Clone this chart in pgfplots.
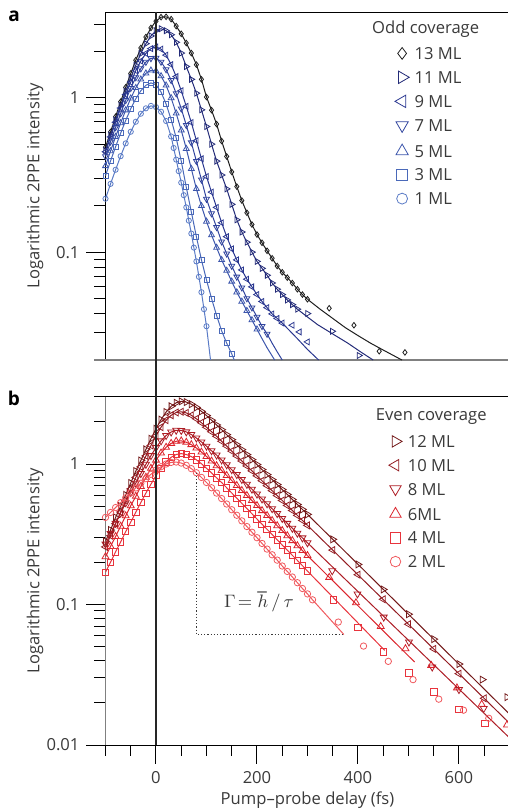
\documentclass[border=0pt]{standalone}
\usepackage{fontspec}
\setmainfont{Open Sans}
\usepackage{pgfplots}
\pgfplotsset{compat=1.18}
\newcommand{\fs}{\fontsize{8.3}{10}\selectfont}
\definecolor{c13}{HTML}{1E1E1E}
\definecolor{c11}{HTML}{232B78}
\definecolor{c9}{HTML}{2A3790}
\definecolor{c7}{HTML}{31449E}
\definecolor{c5}{HTML}{3C56AC}
\definecolor{c3}{HTML}{4A69B9}
\definecolor{c1}{HTML}{5A7BC6}
\definecolor{c12}{HTML}{731818}
\definecolor{c10}{HTML}{931C22}
\definecolor{c8}{HTML}{AD1D25}
\definecolor{c6}{HTML}{DB242C}
\definecolor{c4}{HTML}{E8343D}
\definecolor{c2}{HTML}{F0595E}
\definecolor{txt}{HTML}{3A3A3A}
\pgfplotsset{
 every axis/.append style={
   width=202pt, height=174pt, scale only axis,
   xmin=-100, xmax=700,
   clip mode=individual,
   axis line style={draw=none},
   tick align=outside, tick pos=left,
   major tick length=9.5pt, minor tick length=5.5pt,
   tick style={black, line width=0.5pt},
   tick label style={font=\fs, text=txt},
   legend cell align=left,
 },
}
\begin{document}
\begin{tikzpicture}
%================ TOP PANEL =================
\begin{axis}[ymode=log, at={(0pt,192.5pt)}, anchor=south west,
  ymin=0.02, ymax=3.6, xtick=\empty,
  ytick={0.1,1}, yticklabels={0.1,1},
  minor ytick={0.02,0.03,0.04,0.05,0.06,0.07,0.08,0.09,0.2,0.3,0.4,0.5,0.6,0.7,0.8,0.9,2,3},
  legend style={at={(rel axis cs:0.7156,0.8994)}, anchor=north west, draw=none, fill=none,
    inner sep=0pt, row sep=5.85pt, column sep=2.7pt, font=\fs, text=txt,
    nodes={inner sep=0pt, text height=6pt, text depth=0pt, anchor=west}},
  legend image code/.code={\draw[#1, every mark/.append style={scale=2.1}] plot coordinates {(0pt,0pt)};},
]
\draw[black, line width=0.5pt] (rel axis cs:0,0) -- (rel axis cs:0,1) -- (rel axis cs:1,1);
\draw[gray, line width=1pt] ([xshift=-5.5pt]rel axis cs:0,0) -- (rel axis cs:1,0);
\coordinate (ztop) at (axis cs:0,3.6);
% 13 ML
\addplot[c13, line width=0.5pt, mark=diamond, mark size=1.4pt, mark options={line width=0.4pt, solid}] coordinates {(-100,0.479) (-90,0.601) (-80,0.755) (-70,0.944) (-60,1.170) (-50,1.439) (-40,1.754) (-30,2.104) (-20,2.477) (-10,2.838) (0,3.141) (10,3.334) (20,3.350) (30,3.236) (40,2.917) (50,2.600) (60,2.265) (70,1.950) (80,1.641) (90,1.318) (100,1.012) (110,0.832) (120,0.676) (130,0.525) (140,0.417) (150,0.331) (160,0.266) (170,0.216) (180,0.180) (190,0.151) (200,0.130) (210,0.115) (220,0.102) (230,0.0912) (240,0.0813) (250,0.0741) (260,0.0684) (270,0.0631) (280,0.0575) (290,0.0531) (300,0.0495)};
\addlegendentry{13 ML}
% 11 ML
\addplot[c11, line width=0.5pt, mark=triangle, mark size=1.7pt, mark options={rotate=-90, line width=0.4pt, solid}] coordinates {(-100,0.456) (-90,0.573) (-80,0.718) (-70,0.893) (-60,1.104) (-50,1.349) (-40,1.629) (-30,1.936) (-20,2.244) (-10,2.518) (0,2.723) (10,2.805) (20,2.723) (30,2.564) (40,2.291) (50,1.950) (60,1.596) (70,1.318) (80,1.072) (90,0.836) (100,0.652) (110,0.501) (120,0.389) (130,0.316) (140,0.257) (150,0.204) (160,0.162) (170,0.135) (180,0.116) (190,0.100) (200,0.0871) (210,0.0785) (220,0.0708) (230,0.0631) (240,0.0575) (250,0.0531) (260,0.0490) (270,0.0457) (280,0.0427)};
\addlegendentry{11 ML}
% 9 ML
\addplot[c9, line width=0.5pt, mark=triangle, mark size=1.7pt, mark options={rotate=90, line width=0.4pt, solid}] coordinates {(-100,0.447) (-90,0.558) (-80,0.695) (-70,0.859) (-60,1.050) (-50,1.265) (-40,1.500) (-30,1.734) (-20,1.941) (-10,2.084) (0,2.138) (10,2.070) (20,1.892) (30,1.644) (40,1.374) (50,1.112) (60,0.881) (70,0.692) (80,0.528) (90,0.403) (100,0.309) (110,0.245) (120,0.195) (130,0.155) (140,0.126) (150,0.105) (160,0.0891) (170,0.0767) (180,0.0668) (190,0.0596) (200,0.0531) (210,0.0479) (220,0.0437) (230,0.0398) (240,0.0372) (250,0.0347)};
\addlegendentry{9 ML}
% 7 ML
\addplot[c7, line width=0.5pt, mark=triangle, mark size=1.7pt, mark options={rotate=180, line width=0.4pt, solid}] coordinates {(-100,0.417) (-90,0.520) (-80,0.644) (-70,0.792) (-60,0.964) (-50,1.156) (-40,1.355) (-30,1.549) (-20,1.706) (-10,1.803) (0,1.811) (10,1.710) (20,1.528) (30,1.300) (40,1.067) (50,0.851) (60,0.665) (70,0.513) (80,0.389) (90,0.295) (100,0.221) (110,0.178) (120,0.145) (130,0.117) (140,0.0977) (150,0.0813) (160,0.0692) (170,0.0589) (180,0.0501) (190,0.0437) (200,0.0380) (210,0.0331) (220,0.0295)};
\addlegendentry{7 ML}
% 5 ML
\addplot[c5, line width=0.5pt, mark=triangle, mark size=1.7pt, mark options={line width=0.4pt, solid}] coordinates {(-100,0.362) (-90,0.452) (-80,0.560) (-70,0.687) (-60,0.832) (-50,0.993) (-40,1.161) (-30,1.318) (-20,1.442) (-10,1.507) (0,1.493) (10,1.384) (20,1.205) (30,0.998) (40,0.794) (50,0.617) (60,0.468) (70,0.347) (80,0.257) (90,0.1995) (100,0.158) (110,0.129) (120,0.107) (130,0.0891) (140,0.0759) (150,0.0646) (160,0.0550) (170,0.0479) (180,0.0417) (190,0.0363) (200,0.0316)};
\addlegendentry{5 ML}
% 3 ML
\addplot[c3, line width=0.5pt, mark=square, mark size=1.25pt, mark options={line width=0.4pt, solid}] coordinates {(-100,0.313) (-90,0.390) (-80,0.482) (-70,0.590) (-60,0.714) (-50,0.849) (-40,0.986) (-30,1.112) (-20,1.205) (-10,1.250) (0,1.216) (10,1.091) (20,0.912) (30,0.724) (40,0.550) (50,0.389) (60,0.263) (70,0.182) (80,0.126) (90,0.0891) (100,0.0661) (110,0.0501) (120,0.0389) (130,0.0309) (140,0.0257) (150,0.0219)};
\addlegendentry{3 ML}
% 1 ML
\addplot[c1, line width=0.5pt, mark=o, mark size=1.3pt, mark options={line width=0.4pt, solid}] coordinates {(-100,0.222) (-90,0.277) (-80,0.342) (-70,0.419) (-60,0.507) (-50,0.603) (-40,0.700) (-30,0.789) (-20,0.855) (-10,0.887) (0,0.871) (10,0.813) (20,0.708) (30,0.562) (35,0.473) (40,0.398) (45,0.335) (50,0.282) (55,0.234) (60,0.195) (65,0.160) (70,0.132) (75,0.107) (80,0.0871) (85,0.0692) (90,0.0550) (95,0.0427) (100,0.0331)};
\addlegendentry{1 ML}
% extensions and late points
\addplot[c13, line width=0.5pt, mark=none, forget plot] coordinates {(300,0.0495) (325,0.0427) (350,0.0372) (375,0.0324) (400,0.0288) (425,0.0257) (450,0.0232) (487,0.0200)};
\addplot[c13, only marks, mark=diamond, mark size=1.4pt, mark options={line width=0.4pt}, forget plot] coordinates {(343,0.0433) (392,0.0336) (442,0.0228) (493,0.0224)};
\addplot[c11, line width=0.5pt, mark=none, forget plot] coordinates {(280,0.0427) (300,0.0380) (320,0.0339) (350,0.0295) (380,0.0257) (405,0.0226) (430,0.0200)};
\addplot[c11, only marks, mark=triangle, mark size=1.7pt, mark options={rotate=-90, line width=0.4pt}, forget plot] coordinates {(300,0.0400) (349,0.0307) (402,0.0214)};
\addplot[c9, line width=0.5pt, mark=none, forget plot] coordinates {(250,0.0347) (265,0.0309) (280,0.0275) (300,0.0234) (322,0.0200)};
\addplot[c9, only marks, mark=triangle, mark size=1.7pt, mark options={rotate=90, line width=0.4pt}, forget plot] coordinates {(270,0.0336) (284,0.0304) (300,0.0262)};
\addplot[c7, line width=0.5pt, mark=none, forget plot] coordinates {(220,0.0295) (230,0.0257) (240,0.0226) (250,0.0200)};
\addplot[c5, line width=0.5pt, mark=none, forget plot] coordinates {(200,0.0316) (210,0.0275) (220,0.0240) (235,0.0200)};
\addplot[c3, line width=0.5pt, mark=none, forget plot] coordinates {(150,0.0219) (155,0.0200)};
\addplot[c1, line width=0.5pt, mark=none, forget plot] coordinates {(100,0.0331) (108,0.0200)};
\node[font=\fs, text=txt, anchor=base] at (rel axis cs:0.7926,0.9388) {Odd coverage};
\node[font=\fs, text=txt, rotate=90] at ([xshift=-35.25pt]rel axis cs:0,0.5) {Logarithmic 2PPE intensity};
\end{axis}
%================ BOTTOM PANEL =================
\begin{axis}[ymode=log, at={(0pt,0pt)}, anchor=south west,
  ymin=0.01, ymax=3,
  xtick={0,200,400,600}, xticklabels={0,200,400,600},
  minor xtick={-100,-50,50,100,150,250,300,350,450,500,550,650,700},
  ytick={0.01,0.1,1}, yticklabels={0.01,0.1,1},
  minor ytick={0.02,0.03,0.04,0.05,0.06,0.07,0.08,0.09,0.2,0.3,0.4,0.5,0.6,0.7,0.8,0.9,2,3},
  legend style={at={(rel axis cs:0.7005,0.8908)}, anchor=north west, draw=none, fill=none,
    inner sep=0pt, row sep=5.9pt, column sep=2.9pt, font=\fs, text=txt,
    nodes={inner sep=0pt, text height=6pt, text depth=0pt, anchor=west}},
  legend image code/.code={\draw[#1, every mark/.append style={scale=1.65}] plot coordinates {(0pt,0pt)};},
]
\draw[gray, line width=0.5pt] (rel axis cs:0,0) -- (rel axis cs:0,1);
\draw[black, line width=0.5pt] (rel axis cs:0,1) -- (rel axis cs:1,1);
\draw[black, line width=0.5pt] (rel axis cs:0,0) -- (rel axis cs:1,0);
\coordinate (zbot) at (axis cs:0,0.01);
% 12 ML
\addplot[c12, line width=0.5pt, mark=triangle, mark size=2pt, mark options={rotate=-90, line width=0.4pt, solid}] coordinates {(-100,0.282) (-90,0.339) (-80,0.417) (-70,0.501) (-60,0.603) (-50,0.733) (-40,0.891) (-30,1.059) (-20,1.271) (-10,1.514) (0,1.782) (10,2.070) (20,2.344) (30,2.576) (40,2.729) (50,2.793) (60,2.761) (70,2.667) (80,2.529) (90,2.371) (100,2.213) (110,2.051) (120,1.897) (130,1.756) (140,1.618) (150,1.491) (160,1.374) (170,1.266) (180,1.167) (190,1.075) (200,0.991) (210,0.913) (220,0.841) (230,0.775) (240,0.714) (250,0.658) (260,0.607) (270,0.559) (280,0.515) (290,0.475) (300,0.438)};
\addlegendentry{12 ML}
% 10 ML
\addplot[c10, line width=0.5pt, mark=triangle, mark size=2pt, mark options={rotate=90, line width=0.4pt, solid}] coordinates {(-100,0.257) (-90,0.309) (-80,0.376) (-70,0.455) (-60,0.550) (-50,0.665) (-40,0.804) (-30,0.955) (-20,1.143) (-10,1.355) (0,1.589) (10,1.828) (20,2.051) (30,2.223) (40,2.328) (50,2.355) (60,2.312) (70,2.223) (80,2.099) (90,1.968) (100,1.828) (110,1.698) (120,1.576) (130,1.453) (140,1.341) (150,1.236) (160,1.140) (170,1.051) (180,0.969) (190,0.894) (200,0.824) (210,0.760) (220,0.701) (230,0.646) (240,0.596) (250,0.550) (260,0.507) (270,0.467) (280,0.431) (290,0.397) (300,0.366)};
\addlegendentry{10 ML}
% 8 ML
\addplot[c8, line width=0.5pt, mark=triangle, mark size=2pt, mark options={rotate=180, line width=0.4pt, solid}] coordinates {(-100,0.269) (-90,0.320) (-80,0.378) (-70,0.448) (-60,0.530) (-50,0.627) (-40,0.730) (-30,0.855) (-20,0.995) (-10,1.148) (0,1.309) (10,1.462) (20,1.596) (30,1.690) (40,1.738) (50,1.734) (60,1.694) (70,1.622) (80,1.531) (90,1.436) (100,1.340) (110,1.242) (120,1.158) (130,1.069) (140,0.987) (150,0.911) (160,0.841) (170,0.776) (180,0.717) (190,0.662) (200,0.611) (210,0.564) (220,0.521) (230,0.481) (240,0.444) (250,0.410) (260,0.378) (270,0.349) (280,0.322) (290,0.298) (300,0.275)};
\addlegendentry{8 ML}
% 6 ML
\addplot[c6, line width=0.5pt, mark=triangle, mark size=2pt, mark options={line width=0.4pt, solid}] coordinates {(-100,0.219) (-90,0.259) (-80,0.305) (-70,0.361) (-60,0.428) (-50,0.505) (-40,0.589) (-30,0.692) (-20,0.805) (-10,0.933) (0,1.066) (10,1.197) (20,1.315) (30,1.403) (40,1.452) (50,1.462) (60,1.429) (70,1.374) (80,1.300) (90,1.216) (100,1.132) (110,1.050) (120,0.973) (130,0.900) (140,0.829) (150,0.764) (160,0.703) (170,0.648) (180,0.597) (190,0.550) (200,0.506) (210,0.466) (220,0.430) (230,0.396) (240,0.364) (250,0.336) (260,0.309) (270,0.285) (280,0.262) (290,0.242) (300,0.223)};
\addlegendentry{6ML}
% 4 ML
\addplot[c4, line width=0.5pt, mark=square, mark size=1.6pt, mark options={line width=0.4pt, solid}] coordinates {(-100,0.170) (-90,0.200) (-80,0.237) (-70,0.279) (-60,0.330) (-50,0.386) (-40,0.454) (-30,0.532) (-20,0.621) (-10,0.719) (0,0.826) (10,0.933) (20,1.035) (30,1.117) (40,1.169) (50,1.186) (60,1.169) (70,1.130) (80,1.072) (90,1.005) (100,0.933) (110,0.865) (120,0.798) (130,0.738) (140,0.678) (150,0.622) (160,0.571) (170,0.525) (180,0.482) (190,0.443) (200,0.406) (210,0.373) (220,0.343) (230,0.315) (240,0.289) (250,0.265) (260,0.244) (270,0.224) (280,0.206) (290,0.189) (300,0.173)};
\addlegendentry{4 ML}
% 2 ML
\addplot[c2, line width=0.5pt, mark=o, mark size=1.6pt, mark options={line width=0.4pt, solid}] coordinates {(-100,0.417) (-90,0.452) (-80,0.490) (-70,0.531) (-60,0.575) (-50,0.624) (-40,0.676) (-30,0.730) (-20,0.787) (-10,0.845) (0,0.904) (10,0.957) (20,1.000) (30,1.027) (40,1.033) (50,1.016) (60,0.979) (70,0.927) (80,0.867) (90,0.803) (100,0.739) (110,0.678) (120,0.621) (130,0.568) (140,0.519) (150,0.473) (160,0.432) (170,0.394) (180,0.359) (190,0.327) (200,0.299) (210,0.272) (220,0.248) (230,0.226) (240,0.207) (250,0.188) (260,0.172) (270,0.157) (280,0.143) (290,0.130) (300,0.119) (310,0.108)};
\addlegendentry{2 ML}
% fit line extensions
\addplot[c12, line width=0.5pt, mark=none, forget plot] coordinates {(300,0.438) (700,0.0166)};
\addplot[c10, line width=0.5pt, mark=none, forget plot] coordinates {(300,0.366) (700,0.0143)};
\addplot[c8, line width=0.5pt, mark=none, forget plot] coordinates {(300,0.275) (700,0.01125)};
\addplot[c6, line width=0.5pt, mark=none, forget plot] coordinates {(300,0.223) (512,0.0390)};
\addplot[c4, line width=0.5pt, mark=none, forget plot] coordinates {(300,0.173) (453,0.0471)};
\addplot[c2, line width=0.5pt, mark=none, forget plot] coordinates {(310,0.108) (372,0.0612)};
% late points
\addplot[c12, only marks, mark=triangle, mark size=2pt, mark options={rotate=-90, line width=0.4pt}, forget plot] coordinates {(350,0.291) (400,0.193) (450,0.128) (500,0.0853) (550,0.0567) (600,0.0377) (646,0.0292) (695,0.0219)};
\addplot[c10, only marks, mark=triangle, mark size=2pt, mark options={rotate=90, line width=0.4pt}, forget plot] coordinates {(350,0.244) (400,0.163) (450,0.109) (500,0.0724) (550,0.0483) (600,0.0322) (650,0.0215)};
\addplot[c8, only marks, mark=triangle, mark size=2pt, mark options={rotate=180, line width=0.4pt}, forget plot] coordinates {(349,0.174) (399,0.119) (451,0.0813) (501,0.0541) (547,0.0359) (600,0.0248) (649,0.0182)};
\addplot[c6, only marks, mark=triangle, mark size=2pt, mark options={line width=0.4pt}, forget plot] coordinates {(343,0.156) (396,0.103) (445,0.0698) (494,0.0485) (545,0.0369) (596,0.0255) (645,0.0195) (695,0.0139)};
\addplot[c4, only marks, mark=square, mark size=1.6pt, mark options={line width=0.4pt}, forget plot] coordinates {(351,0.108) (400,0.069) (450,0.0459) (501,0.0326) (550,0.0239) (600,0.0179) (651,0.0143)};
\addplot[c2, only marks, mark=o, mark size=1.6pt, mark options={line width=0.4pt}, forget plot] coordinates {(361,0.075) (411,0.0506) (460,0.0394) (509,0.0292) (560,0.0212) (609,0.0177) (659,0.0155)};
% annotation
\draw[densely dotted, txt, line width=0.6pt] (axis cs:80,0.867) -- (axis cs:80,0.0612) -- (axis cs:372,0.0612);
\node[text=txt, font=\fontsize{9.5}{11}\selectfont] at (axis cs:204,0.1038) {$\Gamma\!=\hbar\,/\,\tau$};
\node[font=\fs, text=txt, anchor=base] at (rel axis cs:0.8064,0.9319) {Even coverage};
\node[font=\fs, text=txt, rotate=90] at ([xshift=-35.25pt]rel axis cs:0,0.5) {Logarithmic 2PPE intensity};
\node[font=\fs, text=txt] at ([yshift=-27.5pt]rel axis cs:0.5,0) {Pump–probe delay (fs)};
\end{axis}
\draw[black!85, line width=0.9pt] (ztop) -- (zbot);
\node[font=\bfseries\fontsize{9.5}{11}\selectfont, anchor=base] at (-45.75pt,361.6pt) {a};
\node[font=\bfseries\fontsize{9.5}{11}\selectfont, anchor=base] at (-45.85pt,169.5pt) {b};
\pgfresetboundingbox
\path (-52.75pt,-33pt) rectangle (201.25pt,372.5pt);
\end{tikzpicture}
\end{document}
